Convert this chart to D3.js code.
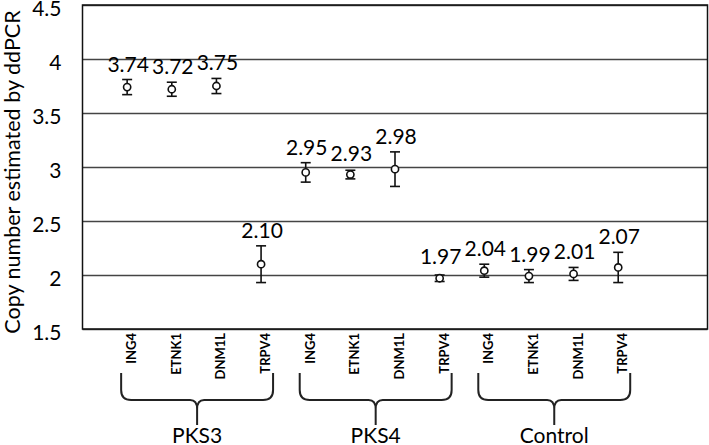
<html>

<head>
  <style>
    body {
      padding: 0px;
      margin: 0px;
      background-color: white;
    }

    svg text {
      font-family: Lato, "Open Sans", sans-serif;
      fill: black;
    }
  </style>
</head>

<body>
  <div id="chart"></div>
  <script src="https://cdnjs.cloudflare.com/ajax/libs/d3/7.8.5/d3.min.js"></script>
  <script>
    // data
    var genes = ['ING4', 'ETNK1', 'DNM1L', 'TRPV4'];
    var groups = ['PKS3', 'PKS4', 'Control'];
    var copyNumber = [3.74, 3.72, 3.75, 2.10, 2.95, 2.93, 2.98, 1.97, 2.04, 1.99, 2.01, 2.07];
    var errors = [0.07, 0.065, 0.07, 0.17, 0.09, 0.04, 0.16, 0.03, 0.06, 0.06, 0.06, 0.14];
    var yTicks = [1.5, 2, 2.5, 3, 3.5, 4, 4.5];

    var svgWidth = 709,
      svgHeight = 445,
      plotLeft = 82.5,
      plotRight = 707.5,
      plotTop = 5,
      plotBottom = 329,
      step = (plotRight - plotLeft) / 14;

    var rows = [];
    groups.forEach(function(g) {
      genes.forEach(function(gene) {
        rows.push({ group: g, gene: gene, key: g + '_' + gene });
      });
    });
    rows.forEach(function(d, i) {
      d.val = copyNumber[i];
      d.err = errors[i];
    });

    var svg = d3.select('#chart').append('svg')
      .attr('width', svgWidth)
      .attr('height', svgHeight);

    var x = d3.scalePoint()
      .domain(rows.map(function(d) { return d.key; }))
      .range([plotLeft + step, plotLeft + 12 * step]);

    var y = d3.scaleLinear()
      .domain([1.5, 4.5])
      .range([plotBottom, plotTop]);

    // gridlines + y tick labels
    var yAxis = svg.append('g')
      .attr('transform', 'translate(' + plotLeft + ',0)')
      .call(d3.axisLeft(y)
        .tickValues(yTicks)
        .tickSize(-(plotRight - plotLeft))
        .tickPadding(21)
        .tickFormat(d3.format('')));
    yAxis.select('.domain').remove();
    yAxis.selectAll('line')
      .attr('stroke', '#444')
      .attr('stroke-width', 1.3);
    yAxis.selectAll('text')
      .style('font-size', '21px')
      .attr('dy', '0.48em');

    // plot frame
    svg.append('rect')
      .attr('x', plotLeft)
      .attr('y', plotTop)
      .attr('width', plotRight - plotLeft)
      .attr('height', plotBottom - plotTop)
      .attr('fill', 'none')
      .attr('stroke', '#111')
      .attr('stroke-width', 1.5);

    // axis title
    svg.append('text')
      .attr('transform', 'translate(20,' + ((plotTop + plotBottom) / 2 + 5) + ') rotate(-90)')
      .attr('text-anchor', 'middle')
      .style('font-size', '21.5px')
      .text('Copy number estimated by ddPCR');

    // category labels
    var xAxis = svg.append('g')
      .attr('transform', 'translate(0,' + plotBottom + ')')
      .call(d3.axisBottom(x)
        .tickSize(0)
        .tickFormat(function(k) { return k.split('_')[1]; }));
    xAxis.select('.domain').remove();
    xAxis.selectAll('text')
      .attr('transform', 'rotate(-90)')
      .attr('text-anchor', 'end')
      .attr('x', -4)
      .attr('y', 8.5)
      .attr('dy', 0)
      .style('font-size', '13px')
      .style('font-weight', 'bold');

    // error bars
    var pts = svg.append('g').selectAll('g')
      .data(rows)
      .enter()
      .append('g');

    pts.append('line')
      .attr('x1', function(d) { return x(d.key); })
      .attr('x2', function(d) { return x(d.key); })
      .attr('y1', function(d) { return y(d.val + d.err); })
      .attr('y2', function(d) { return y(d.val - d.err); })
      .attr('stroke', '#111')
      .attr('stroke-width', 1.6);

    [1, -1].forEach(function(s) {
      pts.append('line')
        .attr('x1', function(d) { return x(d.key) - 5; })
        .attr('x2', function(d) { return x(d.key) + 5; })
        .attr('y1', function(d) { return y(d.val + s * d.err); })
        .attr('y2', function(d) { return y(d.val + s * d.err); })
        .attr('stroke', '#111')
        .attr('stroke-width', 1.6);
    });

    pts.append('circle')
      .attr('cx', function(d) { return x(d.key); })
      .attr('cy', function(d) { return y(d.val); })
      .attr('r', 3.6)
      .attr('fill', 'white')
      .attr('stroke', '#111')
      .attr('stroke-width', 1.6);

    pts.append('text')
      .attr('x', function(d) { return x(d.key) + 1; })
      .attr('y', function(d) { return Math.min(y(d.val) - 14, y(d.val + d.err) - 8); })
      .attr('text-anchor', 'middle')
      .style('font-size', '21px')
      .text(function(d) { return d.val.toFixed(2); });

    // group braces
    var braceTop = 373,
      braceMid = 400,
      braceTip = 425;

    groups.forEach(function(g) {
      var x0 = x(g + '_' + genes[0]) - 6,
        x1 = x(g + '_' + genes[genes.length - 1]) + 12,
        xm = (x0 + x1) / 2;
      var p = d3.path();
      p.moveTo(x0, braceTop);
      p.lineTo(x0, braceMid - 10);
      p.quadraticCurveTo(x0, braceMid, x0 + 10, braceMid);
      p.lineTo(xm - 7, braceMid);
      p.quadraticCurveTo(xm, braceMid, xm, braceMid + 9);
      p.lineTo(xm, braceTip);
      p.moveTo(xm, braceMid + 9);
      p.quadraticCurveTo(xm, braceMid, xm + 7, braceMid);
      p.lineTo(x1 - 10, braceMid);
      p.quadraticCurveTo(x1, braceMid, x1, braceMid - 10);
      p.lineTo(x1, braceTop);
      svg.append('path')
        .attr('d', p.toString())
        .attr('fill', 'none')
        .attr('stroke', '#222')
        .attr('stroke-width', 2);

      svg.append('text')
        .attr('x', xm)
        .attr('y', 443)
        .attr('text-anchor', 'middle')
        .style('font-size', '21px')
        .text(g);
    });
  </script>
</body>

</html>
